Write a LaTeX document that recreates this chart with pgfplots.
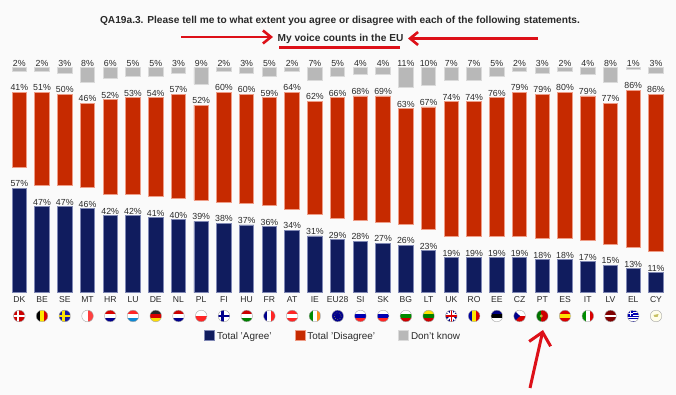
\documentclass[border=0pt]{standalone}
\usepackage{pgfplots}
\pgfplotsset{compat=1.18}
\usepackage{pgfplotstable}
\usepackage{fontspec}
\setmainfont{Liberation Sans}
\usetikzlibrary{arrows.meta}
\definecolor{bgc}{HTML}{FAFAFA}
\definecolor{blu}{HTML}{101C5E}
\definecolor{blue2}{HTML}{8088B4}
\definecolor{redb}{HTML}{C62A00}
\definecolor{red2}{HTML}{EE9C86}
\definecolor{gr}{HTML}{B8B8B8}
\definecolor{gr2}{HTML}{DADADA}
\definecolor{arr}{HTML}{DD1018}
\definecolor{txt}{HTML}{2A2A2A}
\pgfplotstableread{
x agree gapa disagree gapb dk
0 57 11.5 41 11.5 2
1 47 11.5 51 11.5 2
2 47 11.5 50 11.5 3
3 46 11.5 46 11.5 8
4 42 11.5 52 11.5 6
5 42 11.5 53 11.5 5
6 41 11.5 54 11.5 5
7 40 11.5 57 11.5 3
8 39 11.5 52 11.5 9
9 38 11.5 60 11.5 2
10 37 11.5 60 11.5 3
11 36 11.5 59 11.5 5
12 34 11.5 64 11.5 2
13 31 11.5 62 11.5 7
14 29 11.5 66 11.5 5
15 28 11.5 68 11.5 4
16 27 11.5 69 11.5 4
17 26 11.5 63 11.5 11
18 23 11.5 67 11.5 10
19 19 11.5 74 11.5 7
20 19 11.5 74 11.5 7
21 19 11.5 76 11.5 5
22 19 11.5 79 11.5 2
23 18 11.5 79 11.5 3
24 18 11.5 80 11.5 2
25 17 11.5 79 11.5 4
26 15 11.5 77 11.5 8
27 13 11.5 86 11.5 1
28 11 11.5 86 11.5 3
}\data
\newcommand\flagbase[2]{\begin{scope}[shift={(19.3+22.74*#1,316)}]
\begin{scope}\clip (0,0) circle (5.8);#2\end{scope}
\draw[black!35,line width=0.4pt] (0,0) circle (5.8);
\end{scope}}
\newcommand\flagH[4]{\flagbase{#1}{\fill[#2] (-6,-6) rectangle (6,-2);\fill[#3] (-6,-2) rectangle (6,2);\fill[#4] (-6,2) rectangle (6,6);}}
\newcommand\flagV[4]{\flagbase{#1}{\fill[#2] (-6,-6) rectangle (-2,6);\fill[#3] (-2,-6) rectangle (2,6);\fill[#4] (2,-6) rectangle (6,6);}}
\newcommand\flagC[3]{\flagbase{#1}{\fill[#2] (-6,-6) rectangle (6,6);\fill[#3] (-6,-1.2) rectangle (6,1.2);\fill[#3] (-2.6,-6) rectangle (-0.2,6);}}
\begin{document}
\begin{tikzpicture}[font=\fontsize{8.8pt}{10pt}\selectfont]
\begin{axis}[name=ax,
  scale only axis, width=676pt, height=395pt,
  xmin=-0.849, xmax=28.88, ymin=-55.9, ymax=159.95,
  axis background/.style={fill=bgc},
  axis x line=middle, axis y line=none,
  axis line style={draw=none},
  ybar stacked, bar width=14.5pt,
  xtick=data,
  xticklabels={DK,BE,SE,MT,HR,LU,DE,NL,PL,FI,HU,FR,AT,IE,EU28,SI,SK,BG,LT,UK,RO,EE,CZ,PT,ES,IT,LV,EL,CY},
  major tick length=0pt,
  xticklabel style={font=\fontsize{8.6pt}{10pt}\selectfont, text=txt, anchor=base, yshift=-9.5pt},
  ytick=\empty,
  clip=false,
  area legend,
  legend columns=3,
  legend style={at={(axis cs:13.8,-24)},anchor=center,draw=none,fill=none,
    font=\fontsize{9.9pt}{11pt}\selectfont, text=txt,
    /tikz/every even column/.append style={column sep=21pt}},
  legend image code/.code={\fill[#1] (0cm,-3.3pt) rectangle (10pt,6.7pt);},
]
\addplot[fill=blu,draw=blue2,line width=0.9pt] table[x=x,y=agree]{\data};
\addplot[draw=none,fill=none,forget plot] table[x=x,y=gapa]{\data};
\addplot[fill=redb,draw=red2,line width=0.9pt] table[x=x,y=disagree]{\data};
\addplot[draw=none,fill=none,forget plot] table[x=x,y=gapb]{\data};
\addplot[fill=gr,draw=gr2,line width=0.9pt] table[x=x,y=dk]{\data};
\legend{Total 'Agree',Total 'Disagree',Don't know}
\end{axis}
\begin{axis}[
  scale only axis, width=676pt, height=395pt,
  xmin=-0.849, xmax=28.88, ymin=-55.9, ymax=159.95,
  hide axis, clip=false,
  point meta=explicit,
  nodes near coords={\pgfmathprintnumber[fixed,precision=0,assume math mode=true]{\pgfplotspointmeta}\%},
  every node near coord/.append style={anchor=south, text=txt, inner sep=0pt, yshift=1.2pt, font=\fontsize{8.8pt}{10pt}\selectfont},
]
\addplot[draw=none,mark=none] table[x=x,y=agree,meta=agree]{\data};
\addplot[draw=none,mark=none] table[x=x,y expr=\thisrow{agree}+\thisrow{gapa}+\thisrow{disagree},meta=disagree]{\data};
\addplot[draw=none,mark=none] table[x=x,y expr=\thisrow{agree}+\thisrow{gapa}+\thisrow{disagree}+\thisrow{gapb}+\thisrow{dk},meta=dk]{\data};
\end{axis}
\begin{scope}[shift={(ax.north west)},x=1pt,y=-1pt]
\node[font=\fontsize{10.15pt}{12pt}\bfseries\selectfont,text=txt] at (340,21) {QA19a.3. Please tell me to what extent you agree or disagree with each of the following statements.};
\node[font=\fontsize{10.15pt}{12pt}\bfseries\selectfont,text=txt] at (340.5,38.5) {My voice counts in the EU};
\draw[arr,line width=2.6pt] (279,47.5) -- (400,47.5);
\draw[arr,line width=2.6pt,-{Straight Barb[length=8pt,width=13pt]}] (181,37) -- (273,37);
\draw[arr,line width=2.6pt,-{Straight Barb[length=8pt,width=13pt]}] (538,38.5) -- (408,38.5);
\draw[arr,line width=3pt,-{Straight Barb[length=12pt,width=22pt]}] (530,388) -- (543,330);
\flagC{0}{red!80!black}{white}
\flagV{1}{black}{yellow!90!orange}{red!85!black}
\flagC{2}{blue!60!black!90}{yellow!85!orange}
\flagbase{3}{\fill[white] (-6,-6) rectangle (0,6);\fill[red!75] (0,-6) rectangle (6,6);}
\flagH{4}{red!85!black}{white}{blue!55!black}
\flagH{5}{red!85}{white}{cyan!70!blue}
\flagH{6}{black!85}{red!85!black}{yellow!80!orange}
\flagH{7}{red!80!black}{white}{blue!55!black}
\flagbase{8}{\fill[white] (-6,-6) rectangle (6,0);\fill[red!85] (-6,0) rectangle (6,6);}
\flagC{9}{white}{blue!55!black}
\flagH{10}{red!80!black}{white}{green!50!black}
\flagV{11}{blue!55!black}{white}{red!85}
\flagH{12}{red!85}{white}{red!85}
\flagV{13}{green!55!black}{white}{orange!90}
\flagbase{14}{\fill[blue!55!black] (-6,-6) rectangle (6,6);\draw[yellow!80!black,line width=0.5pt,dotted] (0,0) circle (3.5);}
\flagH{15}{white}{blue!70!black}{red!85}
\flagH{16}{white}{blue!70!black}{red!85}
\flagH{17}{white}{green!55!black}{red!80!black}
\flagH{18}{yellow!85!orange}{green!50!black}{red!80!black}
\flagbase{19}{\fill[blue!50!black] (-6,-6) rectangle (6,6);\draw[white,line width=1.6pt] (-6,-6) -- (6,6) (-6,6) -- (6,-6);\draw[white,line width=3pt] (-6,0) -- (6,0) (0,-6) -- (0,6);\draw[red!85!black,line width=1.6pt] (-6,0) -- (6,0) (0,-6) -- (0,6);}
\flagV{20}{blue!65!black}{yellow!90!orange}{red!85!black}
\flagH{21}{blue!50!black}{black}{white}
\flagbase{22}{\fill[white] (-6,-6) rectangle (6,0);\fill[red!85!black] (-6,0) rectangle (6,6);\fill[blue!55!black] (-6,-6) -- (0.5,0) -- (-6,6) -- cycle;}
\flagbase{23}{\fill[green!45!black] (-6,-6) rectangle (-1,6);\fill[red!80!black] (-1,-6) rectangle (6,6);\fill[yellow!70!black] (-1,0) circle (1.6);}
\flagH{24}{red!85!black}{yellow!85!orange}{red!85!black}
\flagV{25}{green!55!black}{white}{red!85!black}
\flagbase{26}{\fill[red!50!black] (-6,-6) rectangle (6,6);\fill[white] (-6,-1) rectangle (6,1);}
\flagbase{27}{\fill[white] (-6,-6) rectangle (6,6);\foreach \yy in {-5,-2.6,-0.2,2.2,4.6} {\fill[blue!70!black] (-6,\yy) rectangle (6,\yy+1.2);}\fill[blue!70!black] (-6,-6) rectangle (-0.5,0.5);\fill[white] (-6,-3.3) rectangle (-0.5,-2.3);\fill[white] (-3.7,-6) rectangle (-2.7,0.5);}
\flagbase{28}{\fill[white!92!yellow] (-6,-6) rectangle (6,6);\fill[yellow!50!gray] (-2.5,-1) -- (2.5,-2) -- (1.5,1) -- (-1.5,1) -- cycle;}
\end{scope}
\end{tikzpicture}
\end{document}
